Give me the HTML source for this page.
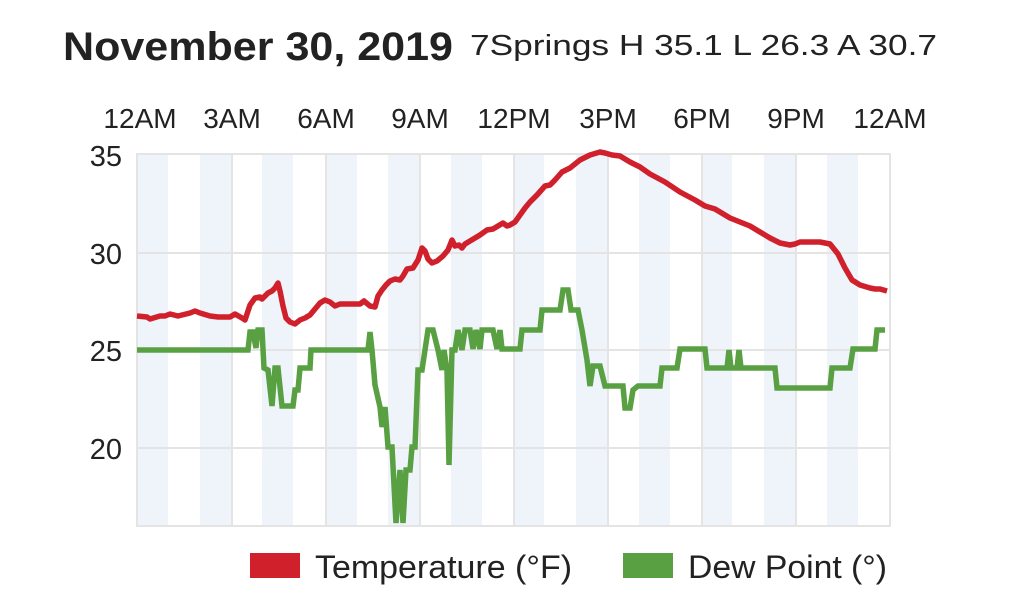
<!DOCTYPE html>
<html><head><style>
body{margin:0;background:#fff;width:1024px;height:589px;overflow:hidden;font-family:"Liberation Sans",Arial,sans-serif;}
</style></head><body>
<svg width="1024" height="589" xmlns="http://www.w3.org/2000/svg" font-family="Liberation Sans, Arial, sans-serif">
<text x="63" y="60" font-size="40" font-weight="bold" fill="#222" textLength="390" lengthAdjust="spacingAndGlyphs">November 30, 2019</text>
<text x="470" y="55" font-size="29" fill="#222" textLength="467" lengthAdjust="spacingAndGlyphs">7Springs  H 35.1 L 26.3 A 30.7</text>
<g font-size="28" fill="#222" text-anchor="middle">
<text x="140" y="128">12AM</text><text x="232" y="128">3AM</text><text x="326" y="128">6AM</text><text x="420" y="128">9AM</text><text x="514" y="128">12PM</text><text x="608" y="128">3PM</text><text x="702" y="128">6PM</text><text x="796" y="128">9PM</text><text x="890" y="128">12AM</text>
</g>
<g font-size="29" fill="#222" text-anchor="end">
<text x="122" y="166">35</text><text x="122" y="264">30</text><text x="122" y="361">25</text><text x="122" y="459">20</text>
</g>
<g fill="#eef4fa">
<rect x="137" y="154" width="31" height="372"/><rect x="200" y="154" width="31" height="372"/><rect x="262" y="154" width="31" height="372"/><rect x="326" y="154" width="31" height="372"/><rect x="388" y="154" width="31" height="372"/><rect x="451" y="154" width="31" height="372"/><rect x="513" y="154" width="31" height="372"/><rect x="576" y="154" width="31" height="372"/><rect x="639" y="154" width="31" height="372"/><rect x="701" y="154" width="31" height="372"/><rect x="764" y="154" width="31" height="372"/><rect x="827" y="154" width="31" height="372"/>
</g>
<g stroke="#e4e4e4" stroke-width="2" fill="none">
<rect x="137" y="154" width="753" height="372"/>
<line x1="137" y1="253" x2="890" y2="253"/><line x1="137" y1="350" x2="890" y2="350"/><line x1="137" y1="448" x2="890" y2="448"/>
<line x1="232" y1="154" x2="232" y2="526"/><line x1="326" y1="154" x2="326" y2="526"/><line x1="420" y1="154" x2="420" y2="526"/><line x1="514" y1="154" x2="514" y2="526"/><line x1="608" y1="154" x2="608" y2="526"/><line x1="702" y1="154" x2="702" y2="526"/><line x1="796" y1="154" x2="796" y2="526"/>
</g>
<polyline fill="none" stroke="#59a042" stroke-width="5.5" stroke-linejoin="miter" points="137,350 248,350 250,332 253,332 256,348 258,330 262,330 264,368 268,370 272,406 275,368 278,368 282,406 293,406 295,390 298,390 300,368 310,368 311,350 368,350 370,332 372,350 375,385 380,407 382,427 385,407 388,447 392,447 396,523 400,470 403,523 406,470 410,470 412,447 415,447 418,370 422,370 425,350 428,330 433,330 438,350 442,370 444,350 447,370 449,465 452,350 455,350 458,330 462,350 465,330 470,330 473,349 476,330 480,349 482,330 493,330 497,349 500,330 502,349 520,349 522,330 540,330 542,310 560,310 563,290 568,290 571,310 578,310 582,330 587,360 590,386 593,366 600,366 605,386 623,386 625,408 630,408 633,390 638,386 660,386 662,368 677,368 680,349 705,349 707,368 727,368 729,350 731,368 737,368 739,350 741,368 775,368 777,388 830,388 832,368 850,368 853,349 875,349 877,330 885,330"/>
<polyline fill="none" stroke="#d0202c" stroke-width="5.5" stroke-linejoin="round" points="137,316 147,317 150,319 160,316 165,316 170,314 178,316 190,313 195,311 200,313 210,316 218,317 222,317 230,317 235,314 242,318 245,320 250,305 255,298 260,297 262,299 265,296 268,293 272,291 275,288 278,283 280,291 283,306 286,318 290,322 295,324 300,320 305,318 310,315 315,309 320,303 325,300 330,302 335,306 340,304 350,304 360,304 364,301 370,306 375,307 378,296 382,290 386,285 390,281 395,279 400,280 403,276 407,269 413,268 418,260 422,248 425,251 428,259 432,263 437,261 443,256 448,250 452,240 455,246 459,245 462,248 465,244 470,241 475,238 480,235 487,230 493,229 498,226 503,223 507,226 510,225 515,222 520,215 525,208 530,202 537,195 545,186 550,185 555,180 562,172 570,168 580,160 590,155 600,152 605,153 612,155 620,156 630,162 640,167 650,174 665,182 680,192 695,200 705,206 715,209 730,218 740,222 750,226 760,232 770,238 780,243 790,245 795,244 800,242 820,242 830,244 838,254 845,268 852,280 860,285 870,288 875,289 880,289 887,291"/>
<rect x="250" y="553" width="50" height="25" fill="#d0202c"/>
<text x="315" y="578" font-size="32" fill="#222" textLength="257" lengthAdjust="spacingAndGlyphs">Temperature (°F)</text>
<rect x="623" y="553" width="50" height="25" fill="#59a042"/>
<text x="688" y="578" font-size="32" fill="#222" textLength="199" lengthAdjust="spacingAndGlyphs">Dew Point (°)</text>
</svg>
</body></html>
